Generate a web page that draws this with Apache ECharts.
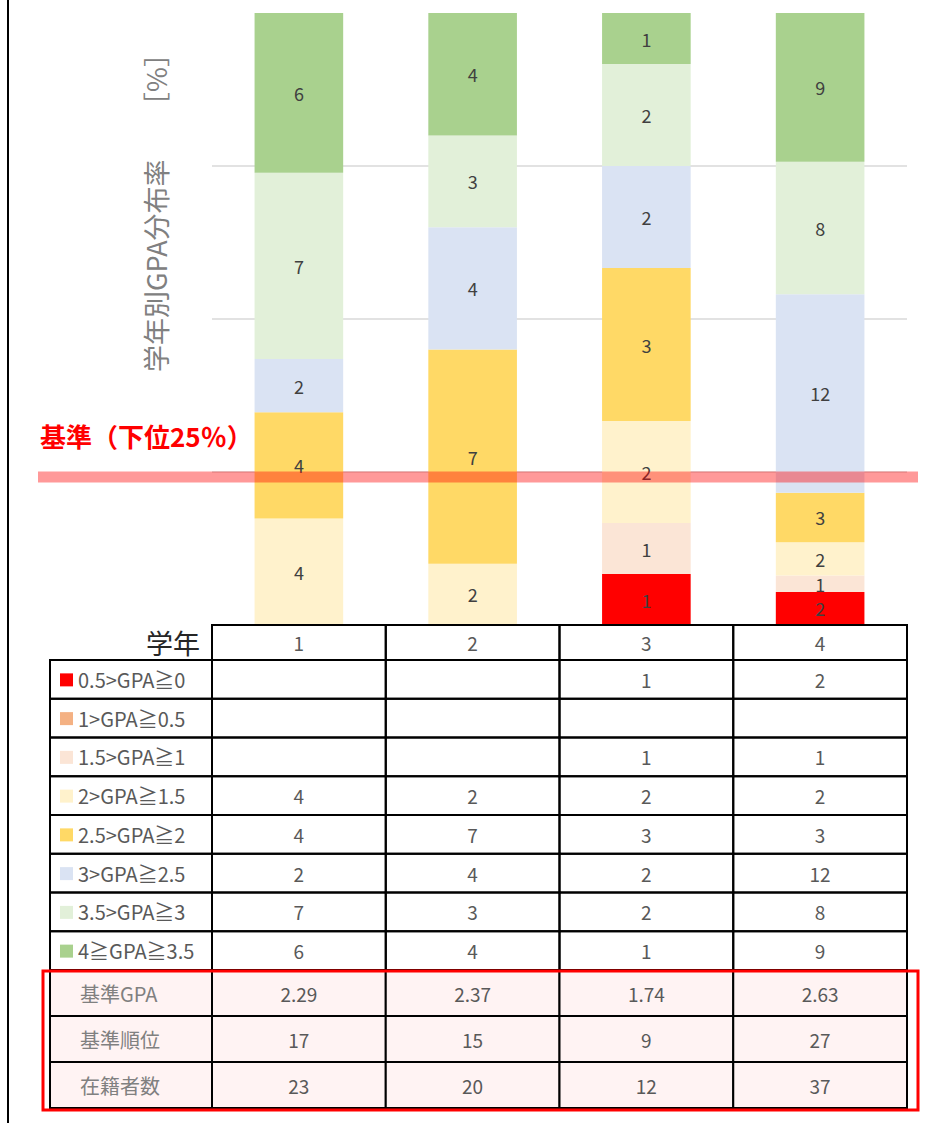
<!DOCTYPE html>
<html>
<head>
<meta charset="utf-8">
<script src="https://cdn.jsdelivr.net/npm/echarts@6/dist/echarts.min.js"></script>
<style>
  html, body { margin: 0; padding: 0; background: #fff; }
  #main { width: 928px; height: 1123px; }
</style>
</head>
<body>
<div id="main"></div>
<script>
// 学年
const grades = ['1', '2', '3', '4'];

// GPA帯 (下から順)
const bandNames = ['0.5>GPA≧0', '1>GPA≧0.5', '1.5>GPA≧1', '2>GPA≧1.5', '2.5>GPA≧2', '3>GPA≧2.5', '3.5>GPA≧3', '4≧GPA≧3.5'];
const bandColors = ['#FF0000', '#F4B183', '#FBE5D6', '#FFF2CC', '#FFD966', '#DAE3F3', '#E2F0D9', '#A9D18E'];

// 人数
const gpa0to05 = [0, 0, 1, 2];
const gpa05to1 = [0, 0, 0, 0];
const gpa1to15 = [0, 0, 1, 1];
const gpa15to2 = [4, 2, 2, 2];
const gpa2to25 = [4, 7, 3, 3];
const gpa25to3 = [2, 4, 2, 12];
const gpa3to35 = [7, 3, 2, 8];
const gpa35to4 = [6, 4, 1, 9];
const bandCounts = [gpa0to05, gpa05to1, gpa1to15, gpa15to2, gpa2to25, gpa25to3, gpa3to35, gpa35to4];

// 基準
const baseGpa = ['2.29', '2.37', '1.74', '2.63'];
const baseRank = ['17', '15', '9', '27'];
const enrolled = ['23', '20', '12', '37'];
const thresholdPct = 24.2; // 基準線の位置 (%)

const FONT = '"Noto Sans CJK JP", "Noto Sans", sans-serif';

const totals = grades.map((g, i) => bandCounts.reduce((s, arr) => s + arr[i], 0));

const series = bandNames.map((name, k) => ({
  name: name,
  type: 'bar',
  stack: 'total',
  barWidth: '51%',
  itemStyle: { color: bandColors[k] },
  label: {
    show: true,
    color: '#404040',
    fontSize: 18,
    fontFamily: FONT,
    formatter: p => bandCounts[k][p.dataIndex] || ''
  },
  data: bandCounts[k].map((c, i) => c ? c / totals[i] * 100 : null)
}));

const chart = echarts.init(document.getElementById('main'), null, { renderer: 'svg' });

chart.setOption({
  backgroundColor: '#fff',
  animation: false,
  grid: { left: 212, right: 21, top: 13, bottom: 498 },
  xAxis: {
    type: 'category',
    data: grades,
    axisLabel: { show: false },
    axisLine: { show: false },
    axisTick: { show: false }
  },
  yAxis: {
    type: 'value',
    min: 0,
    max: 100,
    interval: 25,
    axisLabel: { show: false },
    axisLine: { show: false },
    axisTick: { show: false },
    splitLine: {
      lineStyle: { color: ['#d9d9d9', '#d9d9d9', '#d9d9d9', '#d9d9d9', 'rgba(0,0,0,0)'], width: 1.5 }
    }
  },
  series
});

// 表と注記
const xs = grades.map(g => chart.convertToPixel({ xAxisIndex: 0 }, g));
const half = (xs[1] - xs[0]) / 2;
const colLeft = xs.map(x => x - half);
const labelLeft = 50;
const yBase = chart.convertToPixel({ yAxisIndex: 0 }, 0);
const yRef = chart.convertToPixel({ yAxisIndex: 0 }, thresholdPct);

const headerH = 35;
const legendH = 38.75;
const summaryH = 46;

const els = [];
const cellText = (x, y, text, color, size, align) => ({
  type: 'text', x: x, y: y, z: 110,
  style: {
    text: text, fill: color || '#595959', font: (size || 19) + 'px ' + FONT,
    textAlign: align || 'center', textVerticalAlign: 'middle'
  }
});
const cell = (x, y, w, h, fill) => ({
  type: 'rect', z: 105,
  shape: { x: x, y: y, width: w, height: h },
  style: { fill: fill || 'rgba(0,0,0,0)', stroke: '#000', lineWidth: 2 }
});

// ヘッダ行
els.push(cellText(colLeft[0] - 12, yBase + headerH / 2, '学年', '#262626', 27, 'right'));
grades.forEach((g, i) => {
  els.push(cell(colLeft[i], yBase, half * 2, headerH));
  els.push(cellText(xs[i], yBase + headerH / 2, g));
});

// 凡例行 (上から 0.5>GPA≧0 …)
let y = yBase + headerH;
bandNames.forEach((name, k) => {
  els.push(cell(labelLeft, y, colLeft[0] - labelLeft, legendH));
  els.push({
    type: 'rect', z: 110,
    shape: { x: 60, y: y + legendH / 2 - 6, width: 13, height: 13 },
    style: { fill: bandColors[k] }
  });
  els.push(cellText(78, y + legendH / 2, name, '#595959', 20, 'left'));
  grades.forEach((g, i) => {
    els.push(cell(colLeft[i], y, half * 2, legendH));
    const c = bandCounts[k][i];
    if (c) els.push(cellText(xs[i], y + legendH / 2, String(c)));
  });
  y += legendH;
});

// 基準行
const summaryTop = y;
[['基準GPA', baseGpa], ['基準順位', baseRank], ['在籍者数', enrolled]].forEach(([label, vals]) => {
  els.push(cell(labelLeft, y, colLeft[0] - labelLeft, summaryH, '#FFF3F3'));
  els.push(cellText(80, y + summaryH / 2, label, '#808080', 20, 'left'));
  grades.forEach((g, i) => {
    els.push(cell(colLeft[i], y, half * 2, summaryH, '#FFF3F3'));
    els.push(cellText(xs[i], y + summaryH / 2, vals[i]));
  });
  y += summaryH;
});
els.push({
  type: 'rect', z: 120,
  shape: { x: 43, y: summaryTop + 1, width: 875, height: y - summaryTop + 1 },
  style: { fill: 'rgba(0,0,0,0)', stroke: '#FF0000', lineWidth: 3 }
});

// 左の縦線
els.push({ type: 'line', z: 100, shape: { x1: 8, y1: 0, x2: 8, y2: 1123 }, style: { stroke: '#000', lineWidth: 2 } });

// 縦軸タイトル
els.push({
  type: 'text', z: 110, x: 155, y: 206, rotation: Math.PI / 2,
  style: {
    text: '学年別GPA分布率　　［%］', fill: '#808080', font: '27px ' + FONT,
    textAlign: 'center', textVerticalAlign: 'middle'
  }
});

// 基準線
els.push({
  type: 'rect', z: 100,
  shape: { x: 38, y: yRef - 5.5, width: 880, height: 11 },
  style: { fill: 'rgba(255,0,0,0.4)' }
});
els.push({
  type: 'text', z: 110, x: 40, y: 435,
  style: {
    text: '基準（下位25％）', fill: '#FF0000', font: 'bold 26px ' + FONT,
    textAlign: 'left', textVerticalAlign: 'middle'
  }
});

chart.setOption({ graphic: { elements: els } });
</script>
</body>
</html>
